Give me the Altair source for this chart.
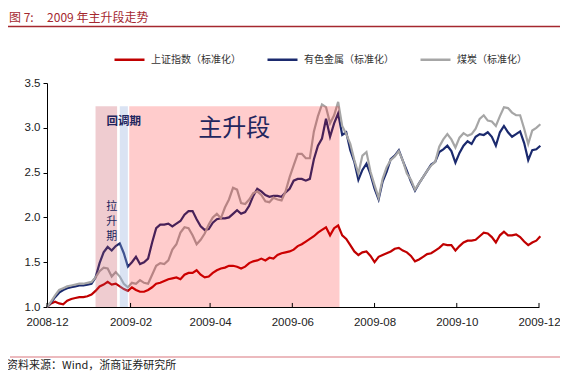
import altair as alt
import pandas as pd

# ---------------- data ----------------
start_date = "2008-12-01"
step_days = 3

series_names = ["上证指数（标准化）", "有色金属（标准化）", "煤炭（标准化）"]
series_colors = ["#C00000", "#1B2A6E", "#A6A6A6"]

sh_index = [1.00, 1.04, 1.06, 1.04, 1.03, 1.07, 1.09, 1.10, 1.11, 1.11,
            1.12, 1.14, 1.18, 1.23, 1.25, 1.28, 1.25, 1.26, 1.23, 1.20,
            1.18, 1.22, 1.19, 1.17, 1.17, 1.19, 1.22, 1.26, 1.27, 1.29,
            1.31, 1.32, 1.33, 1.31, 1.36, 1.38, 1.38, 1.41, 1.36, 1.33,
            1.34, 1.38, 1.41, 1.43, 1.44, 1.46, 1.46, 1.45, 1.43, 1.45,
            1.49, 1.51, 1.52, 1.54, 1.52, 1.55, 1.54, 1.58, 1.60, 1.61,
            1.62, 1.64, 1.68, 1.70, 1.73, 1.76, 1.79, 1.83, 1.86, 1.89,
            1.80, 1.88, 1.91, 1.80, 1.76, 1.69, 1.62, 1.58, 1.61, 1.62,
            1.57, 1.50, 1.56, 1.58, 1.60, 1.62, 1.65, 1.66, 1.63, 1.61,
            1.57, 1.51, 1.53, 1.56, 1.59, 1.60, 1.63, 1.66, 1.70, 1.69,
            1.69, 1.63, 1.68, 1.72, 1.74, 1.74, 1.75, 1.79, 1.83, 1.82,
            1.78, 1.72, 1.80, 1.84, 1.80, 1.80, 1.81, 1.78, 1.73, 1.69,
            1.72, 1.74, 1.79]

metals = [1.00, 1.05, 1.11, 1.16, 1.19, 1.21, 1.22, 1.23, 1.24, 1.24,
          1.25, 1.26, 1.33, 1.49, 1.61, 1.67, 1.63, 1.68, 1.71, 1.60,
          1.45, 1.50, 1.56, 1.48, 1.50, 1.54, 1.72, 1.88, 1.92, 1.92,
          1.93, 1.90, 1.93, 1.96, 2.03, 2.07, 2.07, 1.98, 1.90, 1.86,
          1.87, 1.94, 1.98, 1.99, 1.99, 2.00, 2.04, 2.08, 2.04, 2.06,
          2.13, 2.24, 2.32, 2.29, 2.25, 2.23, 2.24, 2.24, 2.23, 2.28,
          2.32, 2.41, 2.43, 2.43, 2.41, 2.43, 2.65, 2.80, 2.88, 3.10,
          2.90, 3.05, 3.16, 2.92, 2.95, 2.75, 2.62, 2.42, 2.53, 2.60,
          2.48, 2.32, 2.20, 2.40, 2.51, 2.65, 2.69, 2.75, 2.63, 2.52,
          2.40, 2.30, 2.38, 2.45, 2.52, 2.59, 2.62, 2.73, 2.76, 2.80,
          2.74, 2.61, 2.72, 2.80, 2.85, 2.82, 2.90, 2.93, 2.92, 2.95,
          2.90, 2.80, 2.95, 3.02, 2.95, 2.90, 2.93, 2.96, 2.83, 2.64,
          2.75, 2.76, 2.80]

coal = [1.00, 1.06, 1.13, 1.19, 1.21, 1.23, 1.24, 1.25, 1.26, 1.26,
        1.27, 1.28, 1.33, 1.40, 1.44, 1.43, 1.34, 1.39, 1.34, 1.26,
        1.22, 1.27, 1.26, 1.30, 1.27, 1.26, 1.36, 1.46, 1.49, 1.48,
        1.52, 1.64, 1.70, 1.83, 1.89, 1.88, 1.80, 1.70, 1.75, 1.82,
        1.92, 2.00, 2.04, 1.99, 2.11, 2.20, 2.33, 2.31, 2.16, 2.15,
        2.20, 2.27, 2.29, 2.25, 2.18, 2.17, 2.22, 2.20, 2.19, 2.29,
        2.45, 2.58, 2.71, 2.71, 2.66, 2.66, 2.96, 3.13, 3.26, 3.23,
        3.05, 3.14, 3.29, 3.02, 2.93, 2.82, 2.64, 2.49, 2.69, 2.73,
        2.51, 2.36, 2.22, 2.43, 2.56, 2.64, 2.68, 2.74, 2.63, 2.49,
        2.42, 2.31, 2.38, 2.45, 2.52, 2.58, 2.62, 2.79, 2.87, 2.93,
        2.87, 2.78, 2.89, 2.94, 2.91, 2.93, 2.99, 3.10, 3.14, 3.08,
        3.07, 3.02, 3.13, 3.23, 3.22, 3.17, 3.14, 3.14, 2.99, 2.82,
        2.97, 3.00, 3.04]

# shaded phases
region_start = ["2009-01-06", "2009-01-24", "2009-01-31"]
region_end = ["2009-01-22", "2009-01-30", "2009-07-06"]
region_top = 3.24
region_fill = ["#C0394A", "#8EA9DB", "#FF0000"]
region_opacity = [0.26, 0.33, 0.20]

# annotations
note_text = ["回调期", "主升段", "拉", "升", "期"]
note_date = ["2009-01-27", "2009-04-19", "2009-01-18", "2009-01-18", "2009-01-18"]
note_value = [3.065, 2.99, 2.116, 1.949, 1.781]

tick_dates = ["2008-12-01", "2009-02-01", "2009-04-01", "2009-06-01",
              "2009-08-01", "2009-10-01", "2009-12-01"]
y_ticks = [1.0, 1.5, 2.0, 2.5, 3.0, 3.5]

title_text = "图 7:\u00a0\u00a0\u00a0\u00a0\u00a02009 年主升段走势"
source_text = "资料来源：Wind，浙商证券研究所"

# ---------------- tables ----------------
dates = pd.date_range(start_date, periods=len(sh_index), freq=f"{step_days}D").strftime("%Y-%m-%d")
rows = []
for name, vals in zip(series_names, [sh_index, metals, coal]):
    for d, v in zip(dates, vals):
        rows.append({"date": d, "value": v, "series": name})
lines_df = pd.DataFrame(rows)

regions_df = pd.DataFrame({
    "date": region_start, "date_end": region_end,
    "value": [1.0] * 3, "value_top": [region_top] * 3,
    "fill": region_fill, "op": region_opacity,
})
notes_df = pd.DataFrame({"date": note_date, "value": note_value, "t": note_text})
ticks_df = pd.DataFrame({"date": tick_dates, "value": [1.0] * len(tick_dates),
                         "value_top": [1.045] * len(tick_dates)})


def dt(s):
    y, m, d = (int(p) for p in s.split("-"))
    return alt.DateTime(year=y, month=m, date=d, utc=True)


x_scale = alt.Scale(type="utc", domain=[dt("2008-12-01"), dt("2009-12-01")])
y_scale = alt.Scale(domain=[1.0, 3.5], nice=False, zero=False)

x_axis = alt.Axis(values=[dt(s) for s in tick_dates],
                  labelExpr="utcFormat(datum.value, '%Y-%m')",
                  title=None, grid=False, ticks=False, labelPadding=9,
                  labelFontSize=11.5, labelFont="Liberation Sans", labelColor="#222222",
                  labelFlush=False, labelOverlap=False, domainColor="black")
y_axis = alt.Axis(values=y_ticks, format=".1f", title=None, grid=False,
                  tickSize=4, tickColor="black", labelPadding=3,
                  labelFontSize=11.5, labelFont="Liberation Sans", labelColor="#222222",
                  domainColor="black")

X = alt.X("date:T", scale=x_scale, axis=x_axis)
Y = alt.Y("value:Q", scale=y_scale, axis=y_axis)

lines = alt.Chart(lines_df).mark_line(strokeWidth=2.2).encode(
    x=X, y=Y,
    color=alt.Color("series:N",
                    scale=alt.Scale(domain=series_names, range=series_colors),
                    legend=alt.Legend(orient="none", legendX=66, legendY=-40,
                                      direction="horizontal", title=None,
                                      symbolType="stroke", symbolSize=900,
                                      symbolStrokeWidth=2.5,
                                      labelFont="Noto Sans CJK SC", labelFontSize=10,
                                      labelColor="#333333", columnPadding=21,
                                      labelOffset=5, padding=0)),
    detail="series:N",
)

regions = alt.Chart(regions_df).mark_rect().encode(
    x=X, x2="date_end:T", y=Y, y2="value_top:Q",
    fill=alt.Fill("fill:N", scale=None),
    opacity=alt.Opacity("op:Q", scale=None),
)

xticks = alt.Chart(ticks_df).mark_rule(color="black", strokeWidth=1).encode(
    x=X, y=Y, y2="value_top:Q")

note_main = alt.Chart(notes_df[notes_df.t == "主升段"]).mark_text(
    font="Noto Sans CJK SC", fontSize=24, color="#22265E").encode(x=X, y=Y, text="t:N")
note_pull = alt.Chart(notes_df[notes_df.t == "回调期"]).mark_text(
    font="Noto Sans CJK SC", fontSize=11.5, fontWeight="bold", color="#22265E").encode(
    x=X, y=Y, text="t:N")
note_rise = alt.Chart(notes_df[notes_df.t.isin(["拉", "升", "期"])]).mark_text(
    font="Noto Sans CJK SC", fontSize=11, color="#22265E").encode(x=X, y=Y, text="t:N")

title = alt.Chart(pd.DataFrame({"t": [title_text]})).mark_text(
    align="left", baseline="alphabetic", font="Noto Sans CJK SC", fontSize=12,
    color="#A5282F").encode(x=alt.value(-38), y=alt.value(-61), text="t:N")
source = alt.Chart(pd.DataFrame({"t": [source_text]})).mark_text(
    align="left", baseline="alphabetic", font="Noto Sans CJK SC", fontSize=11,
    color="#222222").encode(x=alt.value(-40), y=alt.value(286), text="t:N")
head_rule = alt.Chart(pd.DataFrame({"a": [0]})).mark_rule(
    color="#A5282F", strokeWidth=1.5).encode(
    x=alt.value(-39), x2=alt.value(513), y=alt.value(-56.5))
foot_rule = alt.Chart(pd.DataFrame({"a": [0]})).mark_rule(
    color="#D9777F", strokeWidth=1.2).encode(
    x=alt.value(-37), x2=alt.value(513), y=alt.value(274))

chart = alt.layer(
    lines, regions, xticks, note_main, note_pull, note_rise,
    title, source, head_rule, foot_rule,
).properties(
    width=492, height=224,
    padding={"left": 39, "top": 75, "right": 21, "bottom": 65},
    autosize=alt.AutoSizeParams(type="none"),
).configure_view(stroke=None)

chart.save("out.html", embed_options={"renderer": "svg", "actions": False})
